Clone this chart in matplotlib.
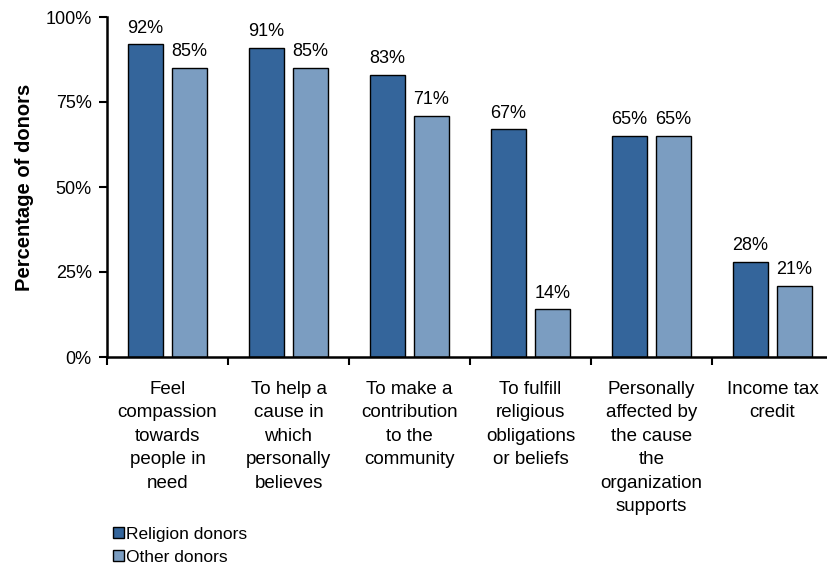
import numpy as np
import matplotlib
matplotlib.use("Agg")
from matplotlib import pyplot as plt

plt.rcParams['font.family'] = ['Liberation Sans', 'DejaVu Sans']

# reasons for giving, share of donors
categories = ['Feel\ncompassion\ntowards\npeople in\nneed',
              'To help a\ncause in\nwhich\npersonally\nbelieves',
              'To make a\ncontribution\nto the\ncommunity',
              'To fulfill\nreligious\nobligations\nor beliefs',
              'Personally\naffected by\nthe cause\nthe\norganization\nsupports',
              'Income tax\ncredit']
religion = [92, 91, 83, 67, 65, 28]
other = [85, 85, 71, 14, 65, 21]
series_names = ['Religion donors', 'Other donors']

dark = '#34659b'
light = '#7b9dc1'

fig = plt.figure(figsize=(8.27, 5.67), dpi=100)
ax = fig.add_axes([107/827, 210/567, 726/827, 340/567])

x = np.arange(len(categories))
w = 0.29
off = 0.182
b1 = ax.bar(x - off, religion, w, color=dark, edgecolor='black', linewidth=1, label=series_names[0])
b2 = ax.bar(x + off, other, w, color=light, edgecolor='black', linewidth=1, label=series_names[1])

for bars, vals in [(b1, religion), (b2, other)]:
    for r, v in zip(bars, vals):
        ax.annotate('%d%%' % v, (r.get_x() + r.get_width()/2, v),
                    xytext=(0, 5.5), textcoords='offset points',
                    ha='center', va='bottom', fontsize=13)

ax.set_xlim(-0.5, len(categories) - 0.5)
ax.set_ylim(0, 100)
ax.set_yticks([0, 25, 50, 75, 100])
ax.set_yticklabels(['0%', '25%', '50%', '75%', '100%'], fontsize=13)
ax.tick_params(axis='y', length=6, width=1.5, pad=5)

# labels at centres, tick marks at the boundaries
ax.set_xticks(x)
ax.set_xticklabels(categories, fontsize=13.5, linespacing=1.5)
ax.tick_params(axis='x', which='major', length=0, pad=17)
ax.set_xticks(np.arange(len(categories) + 1) - 0.5, minor=True)
ax.tick_params(axis='x', which='minor', length=6, width=1.5)

for s in ['top', 'right']:
    ax.spines[s].set_visible(False)
for s in ['left', 'bottom']:
    ax.spines[s].set_linewidth(1.8)

ax.set_ylabel('Percentage of donors', fontsize=14.5, fontweight='bold', labelpad=8)

fig.legend(handles=[b1, b2], loc='lower left', bbox_to_anchor=(106/827, -0.008),
           frameon=False, fontsize=12.5, handlelength=0.65, handleheight=0.65,
           handletextpad=0.12, labelspacing=0.45, borderaxespad=0.0)

fig.savefig('out.png', dpi=100)
